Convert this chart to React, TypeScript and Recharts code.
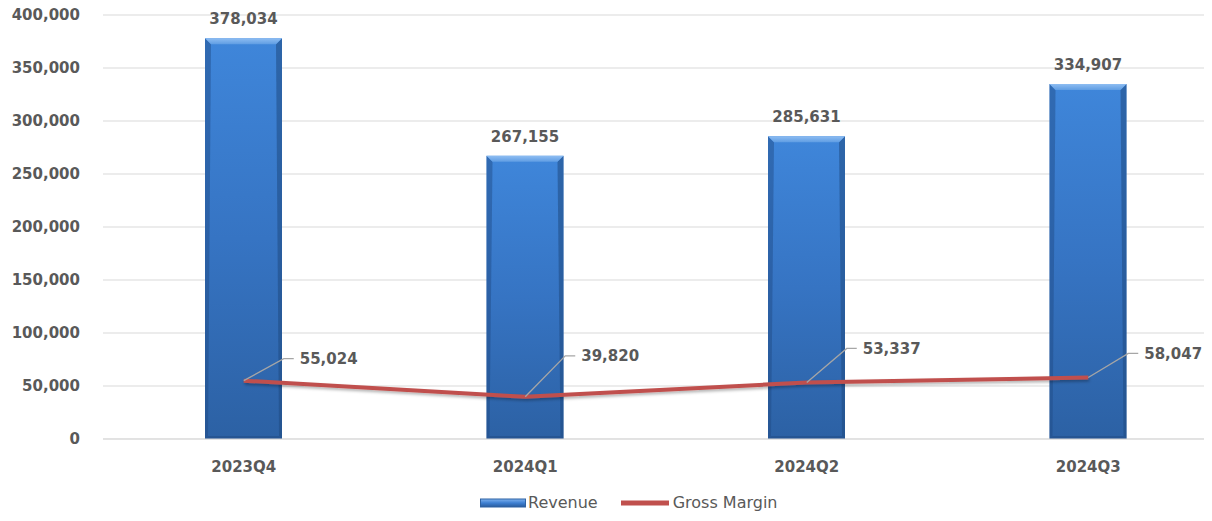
import React from 'react';
import { ComposedChart, Bar, Line, XAxis, YAxis, CartesianGrid, Legend, LabelList } from 'recharts';

const categories = ['2023Q4', '2024Q1', '2024Q2', '2024Q3'];
const revenue = [378034, 267155, 285631, 334907];
const grossMargin = [55024, 39820, 53337, 58047];
const yTicks = [0, 50000, 100000, 150000, 200000, 250000, 300000, 350000, 400000];

// label layout (vertical lift of margin labels above their point)
const marginLabelLift = [22, 41, 34, 24];

const data = categories.map((c, i) => ({ name: c, revenue: revenue[i], margin: grossMargin[i] }));

const FONT = '"DejaVu Sans", sans-serif';
const TEXT = '#595959';
const fmt = (v: number) => v.toLocaleString('en-US');

const CylBar = (props: any) => {
  const { x, y, width, height } = props;
  if (!height || height <= 0) return null;
  const b = 6;
  const s = 3;
  return (
    <g>
      <rect x={x} y={y} width={width} height={height} fill="url(#barV)" />
      <polygon points={`${x},${y} ${x + b},${y + b} ${x + s},${y + height - s} ${x},${y + height}`} fill="#1f4a82" opacity={0.45} />
      <polygon points={`${x + width},${y} ${x + width - b},${y + b} ${x + width - s},${y + height - s} ${x + width},${y + height}`} fill="#1f4a82" opacity={0.55} />
      <polygon points={`${x},${y + height} ${x + s},${y + height - s} ${x + width - s},${y + height - s} ${x + width},${y + height}`} fill="#1f4a82" opacity={0.5} />
      <polygon points={`${x},${y} ${x + width},${y} ${x + width - b},${y + b} ${x + b},${y + b}`} fill="url(#barTop)" />
    </g>
  );
};

const BarTopLabel = (props: any) => {
  const { x, y, width, value } = props;
  return (
    <text x={x + width / 2} y={y - 14} textAnchor="middle" fontFamily={FONT} fontWeight="bold" fontSize={15} fill={TEXT}>
      {fmt(value)}
    </text>
  );
};

const MarginLabel = (props: any) => {
  const { x, y, value, index } = props;
  const lift = marginLabelLift[index] ?? 25;
  const ex = x + 40;
  const ey = y - lift;
  return (
    <g>
      <polyline points={`${x},${y} ${ex},${ey} ${ex + 10},${ey}`} fill="none" stroke="#a6a6a6" strokeWidth={1.3} />
      <text x={ex + 16} y={ey} dy="0.36em" textAnchor="start" fontFamily={FONT} fontWeight="bold" fontSize={15} fill={TEXT}>
        {fmt(value)}
      </text>
    </g>
  );
};

const LegendContent = () => (
  <div style={{ display: 'flex', alignItems: 'center', fontFamily: FONT, fontSize: 16, lineHeight: '18px', color: TEXT, whiteSpace: 'nowrap' }}>
    <svg width={46} height={10} style={{ display: 'block' }}>
      <defs>
        <linearGradient id="legV" x1="0" y1="0" x2="0" y2="1">
          <stop offset="0" stopColor="#7fb2ee" />
          <stop offset="0.5" stopColor="#3d7fd2" />
          <stop offset="1" stopColor="#2a5b9c" />
        </linearGradient>
      </defs>
      <rect x={0.5} y={1} width={45} height={8} fill="url(#legV)" stroke="#2f62a3" strokeWidth={1} />
    </svg>
    <span style={{ marginLeft: 2 }}>Revenue</span>
    <svg width={48} height={10} style={{ display: 'block', marginLeft: 23 }}>
      <line x1={0} y1={5} x2={48} y2={5} stroke="#c0504d" strokeWidth={5} />
    </svg>
    <span style={{ marginLeft: 4 }}>Gross Margin</span>
  </div>
);

export default function App() {
  return (
    <div style={{ width: 1212, height: 521, overflow: 'hidden', marginLeft: -8, marginTop: -8, position: 'relative', background: '#fff' }}>
      <ComposedChart width={1240} height={521} data={data} margin={{ top: 15, right: 11, left: 0, bottom: 32 }}>
        <defs>
          <linearGradient id="barV" x1="0" y1="0" x2="0" y2="1">
            <stop offset="0" stopColor="#3f86da" />
            <stop offset="0.5" stopColor="#3674c3" />
            <stop offset="1" stopColor="#2c61a4" />
          </linearGradient>
          <linearGradient id="barTop" x1="0" y1="0" x2="0" y2="1">
            <stop offset="0" stopColor="#8ebdf2" />
            <stop offset="1" stopColor="#5f9de3" />
          </linearGradient>
          <filter id="lineShadow" x="-5%" y="-50%" width="110%" height="200%">
            <feDropShadow dx="1" dy="2" stdDeviation="1.5" floodColor="#000" floodOpacity="0.3" />
          </filter>
        </defs>
        <CartesianGrid horizontal vertical={false} stroke="#d9d9d9" strokeWidth={1} />
        <XAxis
          dataKey="name"
          axisLine={{ stroke: '#d9d9d9' }}
          tickLine={false}
          tickSize={0}
          tickMargin={22}
          height={30}
          tick={{ fontFamily: FONT, fontWeight: 'bold', fontSize: 15, fill: TEXT }}
        />
        <YAxis
          domain={[0, 400000]}
          ticks={yTicks}
          tickFormatter={fmt}
          axisLine={false}
          tickLine={false}
          tickSize={0}
          tickMargin={23}
          width={103}
          interval={0}
          tick={{ fontFamily: FONT, fontWeight: 'bold', fontSize: 15, fill: TEXT }}
        />
        <Bar dataKey="revenue" name="Revenue" barSize={77} shape={<CylBar />} isAnimationActive={false}>
          <LabelList dataKey="revenue" content={<BarTopLabel />} />
        </Bar>
        <Line
          dataKey="margin"
          name="Gross Margin"
          type="linear"
          stroke="#c0504d"
          strokeWidth={4}
          dot={false}
          activeDot={false}
          filter="url(#lineShadow)"
          isAnimationActive={false}
        >
          <LabelList dataKey="margin" content={<MarginLabel />} />
        </Line>
        <Legend content={<LegendContent />} wrapperStyle={{ position: 'absolute', left: 480, top: 494, width: 340, height: 20 }} />
      </ComposedChart>
    </div>
  );
}
